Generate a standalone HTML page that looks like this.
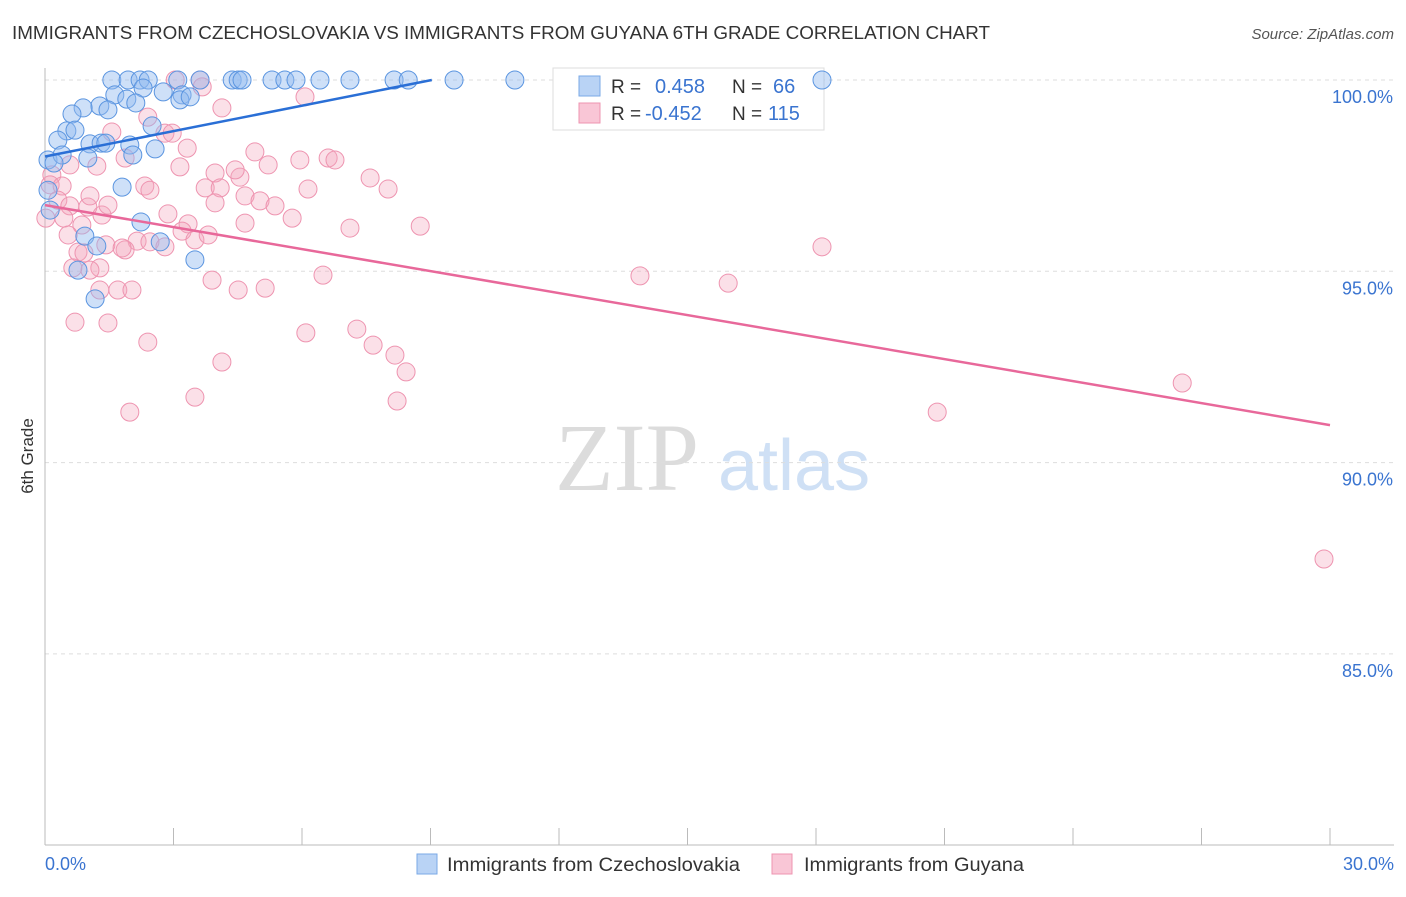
<!DOCTYPE html>
<html><head><meta charset="utf-8"><style>
body{margin:0;background:#fff;font-family:"Liberation Sans",sans-serif}
</style></head><body>
<svg width="1406" height="892" xmlns="http://www.w3.org/2000/svg" font-family="Liberation Sans, sans-serif">
<text x="12" y="39" font-size="18" fill="#333" textLength="978" lengthAdjust="spacingAndGlyphs">IMMIGRANTS FROM CZECHOSLOVAKIA VS IMMIGRANTS FROM GUYANA 6TH GRADE CORRELATION CHART</text>
<text x="1394" y="39" font-size="15" fill="#555" font-style="italic" text-anchor="end">Source: ZipAtlas.com</text>
<text transform="translate(33,456) rotate(-90)" font-size="17" fill="#333" text-anchor="middle">6th Grade</text>
<g>
<text x="555" y="490" font-size="96" font-family="Liberation Serif, serif" fill="#dcdcdc">ZIP</text>
<text x="718" y="490" font-size="72" fill="#cfe0f5">atlas</text></g>
<g id="grid"></g><g id="axes"></g>
<g>
<rect x="553" y="68" width="271" height="62" fill="#fff" stroke="#ddd"/>
<rect x="579" y="76" width="21" height="20" fill="#b9d3f5" stroke="#7aa8e6"/>
<rect x="579" y="103" width="21" height="20" fill="#f9c6d6" stroke="#ee94b0"/>
<text x="611" y="93" font-size="19" fill="#333">R =</text><text x="655" y="93" font-size="20" fill="#3a74d0">0.458</text>
<text x="732" y="93" font-size="19" fill="#333">N =</text><text x="773" y="93" font-size="20" fill="#3a74d0">66</text>
<text x="611" y="120" font-size="19" fill="#333">R =</text><text x="645" y="120" font-size="20" fill="#3a74d0">-0.452</text>
<text x="732" y="120" font-size="19" fill="#333">N =</text><text x="768" y="120" font-size="20" fill="#3a74d0">115</text>
</g>
<g id="pts"></g><g id="lines"></g>
<g>
<rect x="417" y="854" width="20" height="20" fill="#b9d3f5" stroke="#7aa8e6"/>
<text x="447" y="871" font-size="19.5" fill="#333" textLength="293" lengthAdjust="spacingAndGlyphs">Immigrants from Czechoslovakia</text>
<rect x="772" y="854" width="20" height="20" fill="#f9c6d6" stroke="#ee94b0"/>
<text x="804" y="871" font-size="19.5" fill="#333" textLength="220" lengthAdjust="spacingAndGlyphs">Immigrants from Guyana</text>
</g>
</svg>
<script>
const yTicks=[100,95,90,85];
const yTickLabels=["100.0%","95.0%","90.0%","85.0%"];
const xTickLabels=["0.0%","30.0%"];
const blueX=[1.56,1.94,2.22,2.41,3.10,3.62,4.37,4.51,4.60,5.30,5.60,5.86,6.42,7.12,8.15,8.48,9.55,10.97,18.14,2.29,1.63,2.76,3.20,1.91,1.28,2.12,0.89,1.47,0.63,2.50,0.51,0.70,0.30,1.05,1.31,1.42,1.98,2.57,0.07,0.40,0.21,1.00,2.05,1.80,2.24,0.93,1.21,2.69,3.50,1.17,0.77,3.15,3.39,0.12,0.07];
const blueY=[100,100,100,100,100,100,100,100,100,100,100,100,100,100,100,100,100,100,100,99.79,99.61,99.69,99.61,99.50,99.32,99.40,99.27,99.22,99.11,98.80,98.67,98.69,98.43,98.33,98.35,98.35,98.30,98.20,97.91,98.04,97.83,97.96,98.04,97.20,96.29,95.92,95.66,95.77,95.30,94.28,95.03,99.48,99.56,96.60,97.12];
const pinkX=[3.62,3.04,3.67,6.07,4.13,1.56,2.80,3.32,4.90,5.95,6.61,6.77,7.59,8.01,1.87,1.21,3.15,3.97,4.55,5.21,4.44,2.33,2.45,3.74,4.09,4.67,5.02,5.37,6.14,8.76,7.12,5.77,3.97,2.87,3.34,3.20,2.15,2.45,1.87,2.80,3.50,3.81,4.67,1.42,0.77,1.28,1.05,0.65,1.28,1.70,2.03,3.90,4.51,5.14,6.49,13.89,15.95,18.14,0.70,1.47,2.40,4.13,3.50,1.98,6.09,7.28,7.66,8.17,8.43,8.22,26.55,20.83,29.86,0.16,0.12,0.40,0.30,0.02,0.58,1.00,0.44,1.33,0.86,1.47,0.54,1.05,0.58,2.40,2.97,0.91,1.80];
const pinkY=[100,100,99.82,99.56,99.27,98.64,98.61,98.22,98.12,97.91,97.96,97.91,97.44,97.15,97.96,97.75,97.73,97.57,97.46,97.78,97.65,97.23,97.12,97.18,97.18,96.97,96.84,96.71,97.15,96.18,96.13,96.39,96.79,96.50,96.24,96.05,95.79,95.77,95.56,95.64,95.82,95.95,96.26,95.69,95.50,95.09,95.03,95.09,94.51,94.51,94.51,94.77,94.51,94.56,94.90,94.88,94.69,95.64,93.67,93.65,93.15,92.63,91.71,91.32,93.39,93.49,93.07,92.81,92.37,91.61,92.08,91.32,87.48,97.52,97.26,97.23,96.86,96.39,96.71,96.68,96.39,96.47,96.21,96.73,95.95,96.97,97.78,99.03,98.61,95.48,95.61];
const blueTrend=[[0,98.0],[9.03,100]];
const pinkTrend=[[0,96.73],[30,90.98]];
const NS="http://www.w3.org/2000/svg";
const X=v=>45+v/30*1285, Y=v=>80+(100-v)/5*191.3;
function mk(t,a,p){const e=document.createElementNS(NS,t);for(const k in a)e.setAttribute(k,a[k]);document.getElementById(p).appendChild(e);return e;}
yTicks.forEach((t,i)=>{
 const l=mk('line',{x1:45,x2:1394,y1:Y(t),y2:Y(t),stroke:'#ddd','stroke-dasharray':'4,4'},'grid');
 
 
 const tx=mk('text',{x:1393,y:Y(t)+23,'font-size':18,fill:'#3a74d0','text-anchor':'end'},'grid');
 
 
 tx.textContent=yTickLabels[i];
});
const ax=mk('line',{x1:45,x2:45,y1:68,y2:845,stroke:'#bbb'},'axes');


const bx=mk('line',{x1:45,x2:1394,y1:845,y2:845,stroke:'#bbb'},'axes');


for(let i=0;i<=10;i++){const t=mk('line',{x1:X(i*3),x2:X(i*3),y1:828,y2:845,stroke:'#bbb'},'axes');
 
 }
[[0,'start',45],[1,'end',1394]].forEach(([i,a,x])=>{const t=mk('text',{x:x,y:870,'font-size':18,fill:'#3a74d0','text-anchor':a},'axes');
 
 
 t.textContent=xTickLabels[i];});
pinkX.forEach((v,i)=>{const c=mk('circle',{cx:X(v),cy:Y(pinkY[i]),r:9,fill:'rgba(244,166,190,0.35)',stroke:'#ee94b0','stroke-width':1},'pts');
 
 });
blueX.forEach((v,i)=>{const c=mk('circle',{cx:X(v),cy:Y(blueY[i]),r:9,fill:'rgba(147,187,240,0.45)',stroke:'#5b95e0','stroke-width':1},'pts');
 
 });
const bl=mk('line',{x1:X(blueTrend[0][0]),y1:Y(blueTrend[0][1]),x2:X(blueTrend[1][0]),y2:Y(blueTrend[1][1]),stroke:'#2a6fd6','stroke-width':2.5},'lines');


const pl=mk('line',{x1:X(pinkTrend[0][0]),y1:Y(pinkTrend[0][1]),x2:X(pinkTrend[1][0]),y2:Y(pinkTrend[1][1]),stroke:'#e8689a','stroke-width':2.5},'lines');


</script>
</body></html>
